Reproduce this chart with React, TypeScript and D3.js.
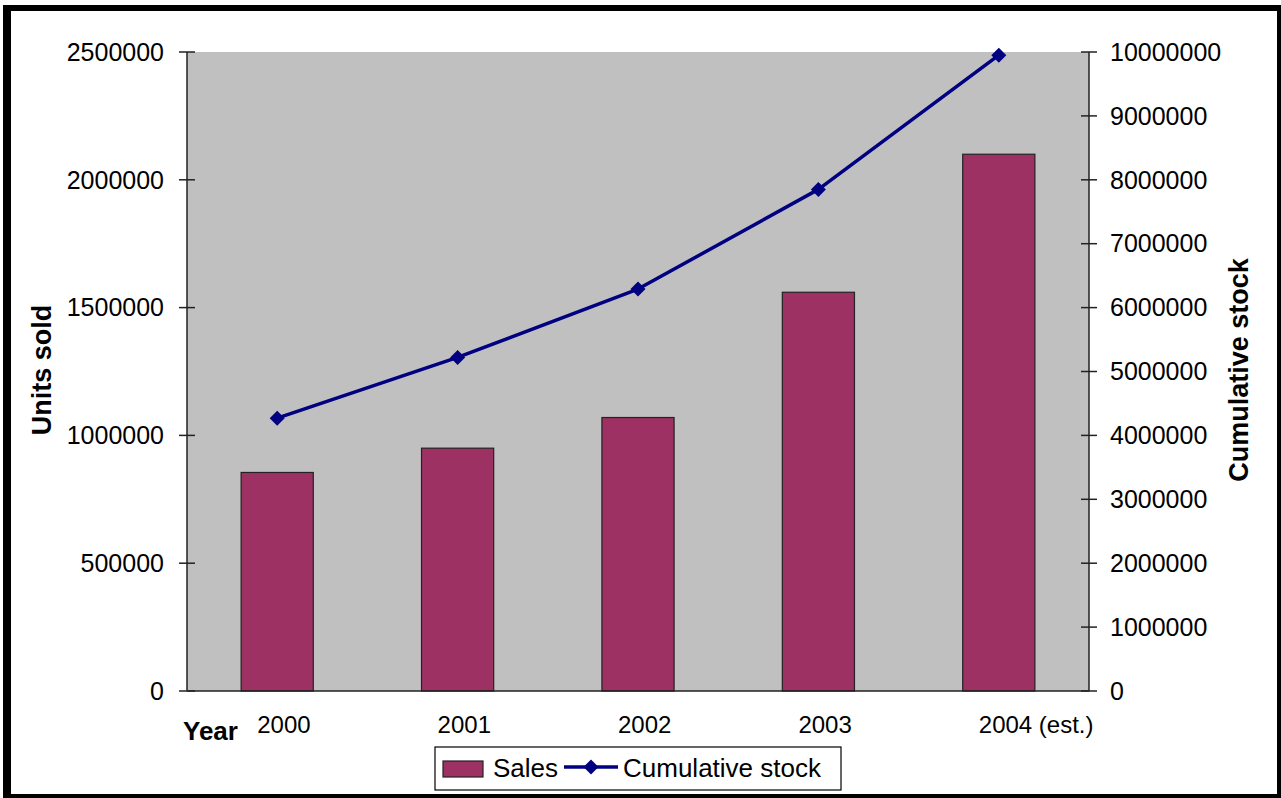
import React from "react";
import * as d3 from "d3";

const categories = ["2000", "2001", "2002", "2003", "2004 (est.)"];
const sales = [855000, 950000, 1070000, 1560000, 2100000];
const cumulativeStock = [4270000, 5220000, 6290000, 7850000, 9950000];
const leftTicks = [0, 500000, 1000000, 1500000, 2000000, 2500000];
const rightTicks = [0, 1000000, 2000000, 3000000, 4000000, 5000000, 6000000, 7000000, 8000000, 9000000, 10000000];

const W = 1281;
const H = 798;
const PL = 187, PR = 1089, PT = 52, PB = 691;
const FONT = "'Liberation Sans', Arial, sans-serif";
const BAR = "#9d3163";
const LINE = "#000080";
const PLOT_BG = "#c0c0c0";

export default function App() {
  const x = d3.scaleBand<string>().domain(categories).range([PL, PR]).paddingInner(0.6).paddingOuter(0.3);
  const yL = d3.scaleLinear().domain([0, 2500000]).range([PB, PT]);
  const yR = d3.scaleLinear().domain([0, 10000000]).range([PB, PT]);
  const bw = x.bandwidth();
  const cx = (c: string) => (x(c) as number) + bw / 2;

  const linePath = d3
    .line<number>()
    .x((_, i) => cx(categories[i]))
    .y((d) => yR(d))(cumulativeStock) as string;

  const diamond = (px: number, py: number, r: number) =>
    `M${px},${py - r}L${px + r},${py}L${px},${py + r}L${px - r},${py}Z`;

  return (
    <svg
      width={W}
      height={H}
      style={{ position: "absolute", left: 0, top: 0, background: "#fff" }}
      fontFamily={FONT}
    >
      <rect x={0} y={0} width={W} height={H} fill="#fff" />
      {/* outer frame */}
      <rect x={3} y={5} width={8} height={H - 5} fill="#000" />
      <rect x={3} y={5} width={W - 3} height={6} fill="#000" />
      <rect x={1277} y={5} width={4} height={H - 5} fill="#000" />
      <rect x={3} y={794} width={W - 3} height={4} fill="#000" />

      {/* plot area */}
      <rect x={PL} y={PT} width={PR - PL} height={PB - PT} fill={PLOT_BG} />

      {/* bars */}
      {categories.map((c, i) => (
        <rect
          key={c}
          x={x(c)}
          y={yL(sales[i])}
          width={bw}
          height={PB - yL(sales[i])}
          fill={BAR}
          stroke="#222"
          strokeWidth={1.2}
        />
      ))}

      {/* line */}
      <path d={linePath} fill="none" stroke={LINE} strokeWidth={3.5} strokeLinejoin="round" />
      {cumulativeStock.map((v, i) => (
        <path key={i} d={diamond(cx(categories[i]), yR(v), 7.5)} fill={LINE} />
      ))}

      {/* axes lines */}
      <line x1={PL} x2={PL} y1={PT} y2={PB} stroke="#222" strokeWidth={1.5} />
      <line x1={PR} x2={PR} y1={PT} y2={PB} stroke="#222" strokeWidth={1.5} />
      <line x1={PL} x2={PR} y1={PB} y2={PB} stroke="#222" strokeWidth={1.5} />

      {/* left ticks */}
      {leftTicks.map((t) => (
        <g key={"l" + t}>
          <line x1={PL - 8} x2={PL + 8} y1={yL(t)} y2={yL(t)} stroke="#222" strokeWidth={1.5} />
          <text x={164} y={yL(t)} dy="0.35em" textAnchor="end" fontSize={25} fill="#000">
            {t}
          </text>
        </g>
      ))}

      {/* right ticks */}
      {rightTicks.map((t) => (
        <g key={"r" + t}>
          <line x1={PR - 8} x2={PR + 8} y1={yR(t)} y2={yR(t)} stroke="#222" strokeWidth={1.5} />
          <text x={1110} y={yR(t)} dy="0.35em" textAnchor="start" fontSize={25} fill="#000">
            {t}
          </text>
        </g>
      ))}

      {/* category labels */}
      {categories.map((c) => (
        <text key={"c" + c} x={cx(c) - 20} y={733} fontSize={24} fill="#000">
          {c}
        </text>
      ))}

      {/* axis titles */}
      <text x={183} y={740} fontSize={26} fontWeight="bold" fill="#000">
        Year
      </text>
      <text
        transform={`translate(51,370) rotate(-90)`}
        textAnchor="middle"
        fontSize={27}
        fontWeight="bold"
        fill="#000"
      >
        Units sold
      </text>
      <text
        transform={`translate(1248,370) rotate(-90)`}
        textAnchor="middle"
        fontSize={27}
        fontWeight="bold"
        fill="#000"
      >
        Cumulative stock
      </text>

      {/* legend */}
      <rect x={435} y={747} width={406} height={43} fill="#fff" stroke="#000" strokeWidth={1.2} />
      <rect x={443} y={761} width={40} height={16} fill={BAR} stroke="#222" strokeWidth={1.2} />
      <text x={493} y={777} fontSize={26} fill="#000">
        Sales
      </text>
      <line x1={564} x2={618} y1={767} y2={767} stroke={LINE} strokeWidth={3.5} />
      <path d={diamond(591, 767, 7.5)} fill={LINE} />
      <text x={623} y={777} fontSize={26} fill="#000">
        Cumulative stock
      </text>
    </svg>
  );
}
